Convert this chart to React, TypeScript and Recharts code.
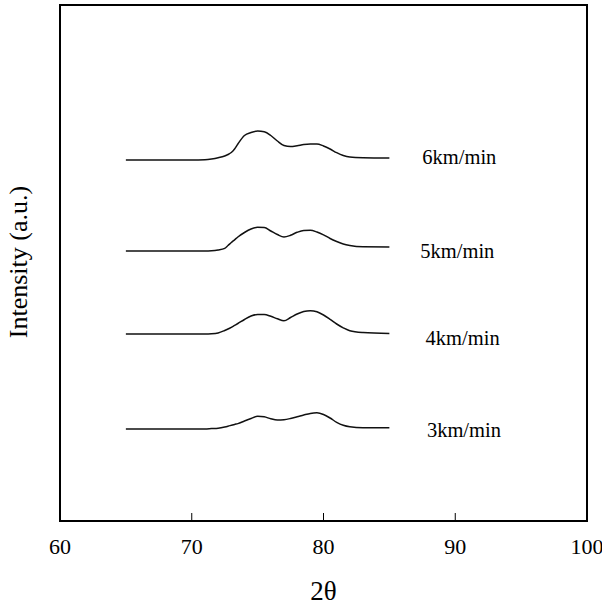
import React from 'react';
import { LineChart, Line, XAxis, YAxis, ReferenceArea, ReferenceDot } from 'recharts';

// 2θ sample positions
const twoTheta = [65, 70, 71, 71.5, 72, 72.5, 72.75, 73, 73.25, 73.5, 74, 74.5, 75, 75.5, 76, 76.5, 77, 77.5, 78, 78.5, 79, 79.5, 80, 80.5, 81, 81.5, 82, 83, 85];

// Intensities (a.u., stacked offsets) for each scanning speed
const s6 = [361, 361, 361.3, 362, 363.2, 365, 366.5, 368.5, 372, 377, 385.5, 388.5, 390, 389.2, 385.5, 380, 375.5, 374.5, 375.3, 376.5, 377, 377, 375, 372, 368.3, 365.5, 364, 363.3, 363];
const s5 = [270, 270, 270, 270.2, 271, 272.7, 275.5, 278.5, 281.2, 284, 288.5, 292, 293.7, 293.5, 290, 286.5, 284, 285.7, 288.7, 290.5, 290.7, 289, 286.2, 282.5, 279.5, 277, 275.5, 274.2, 274];
const s4 = [187, 187, 187, 187.2, 188, 190.5, 192, 193.7, 195.6, 197.5, 201.5, 205, 206.5, 206.5, 204.7, 202.2, 200.2, 203.5, 207, 209.5, 210.3, 209.2, 206, 201.7, 197, 193.2, 190.3, 188.5, 187.5];
const s3 = [92, 92, 92, 92.4, 92.8, 94, 94.8, 95.7, 96.6, 97.4, 100, 102.5, 104.8, 104.2, 102.2, 101, 101.3, 102.5, 104.2, 106, 107.6, 108.2, 106.5, 103, 98.7, 95.7, 94.2, 93.3, 93.2];

const seriesKeys = ['s6', 's5', 's4', 's3'];
const seriesNames = ['6km/min', '5km/min', '4km/min', '3km/min'];
const labelX = [87.5, 87.35, 87.75, 87.85];
const labelY = [357, 263, 176, 84.5];

const xTicks = [60, 70, 80, 90, 100];
const xDomain = [60, 100];
const yDomain = [0, 516];

const data = twoTheta.map((x, i) => ({ x, s6: s6[i], s5: s5[i], s4: s4[i], s3: s3[i] }));

const FONT = '"Liberation Serif", "Times New Roman", serif';

const SeriesLabel = (text: string) => (props: any) => {
  const vb = props.viewBox || {};
  return (
    <text x={vb.x} y={vb.y} fontFamily={FONT} fontSize={20.5} fill="#000" textAnchor="start">
      {text}
    </text>
  );
};

const YLabel = (props: any) => {
  const vb = props.viewBox || {};
  const cy = vb.y + vb.height / 2 - 1;
  const cx = 27;
  return (
    <text x={cx} y={cy} transform={`rotate(-90 ${cx} ${cy})`} fontFamily={FONT} fontSize={26} fill="#000" textAnchor="middle">
      Intensity (a.u.)
    </text>
  );
};

export default function App() {
  return (
    <div style={{ position: 'absolute', left: 0, top: 0, width: 602, height: 606, background: '#fff', fontFamily: FONT }}>
      <LineChart width={602} height={606} data={data} margin={{ top: 5, right: 15, left: 0, bottom: 0 }}>
        <XAxis
          dataKey="x"
          type="number"
          domain={xDomain}
          ticks={xTicks}
          allowDataOverflow
          height={85}
          axisLine={false}
          tickSize={-8}
          tickMargin={25.5}
          tickLine={{ stroke: '#000', strokeWidth: 1 }}
          tick={{ fill: '#000', fontSize: 22, fontFamily: FONT }}
          interval={0}
          label={{ value: '2θ', position: 'insideBottom', offset: 6, fill: '#000', fontSize: 27, fontFamily: FONT }}
        />
        <YAxis
          type="number"
          domain={yDomain}
          allowDataOverflow
          width={60}
          axisLine={false}
          tick={false}
          tickLine={false}
          label={<YLabel />}
        />
        <ReferenceArea x1={60} x2={100} y1={0} y2={516} fill="none" stroke="#000" strokeWidth={2} ifOverflow="visible" />
        {seriesKeys.map((k) => (
          <Line key={k} dataKey={k} type="monotone" stroke="#111" strokeWidth={1.5} dot={false} isAnimationActive={false} />
        ))}
        {seriesNames.map((n, i) => (
          <ReferenceDot key={n} x={labelX[i]} y={labelY[i]} r={0} fill="none" stroke="none" ifOverflow="visible" label={SeriesLabel(n)} />
        ))}
      </LineChart>
    </div>
  );
}
